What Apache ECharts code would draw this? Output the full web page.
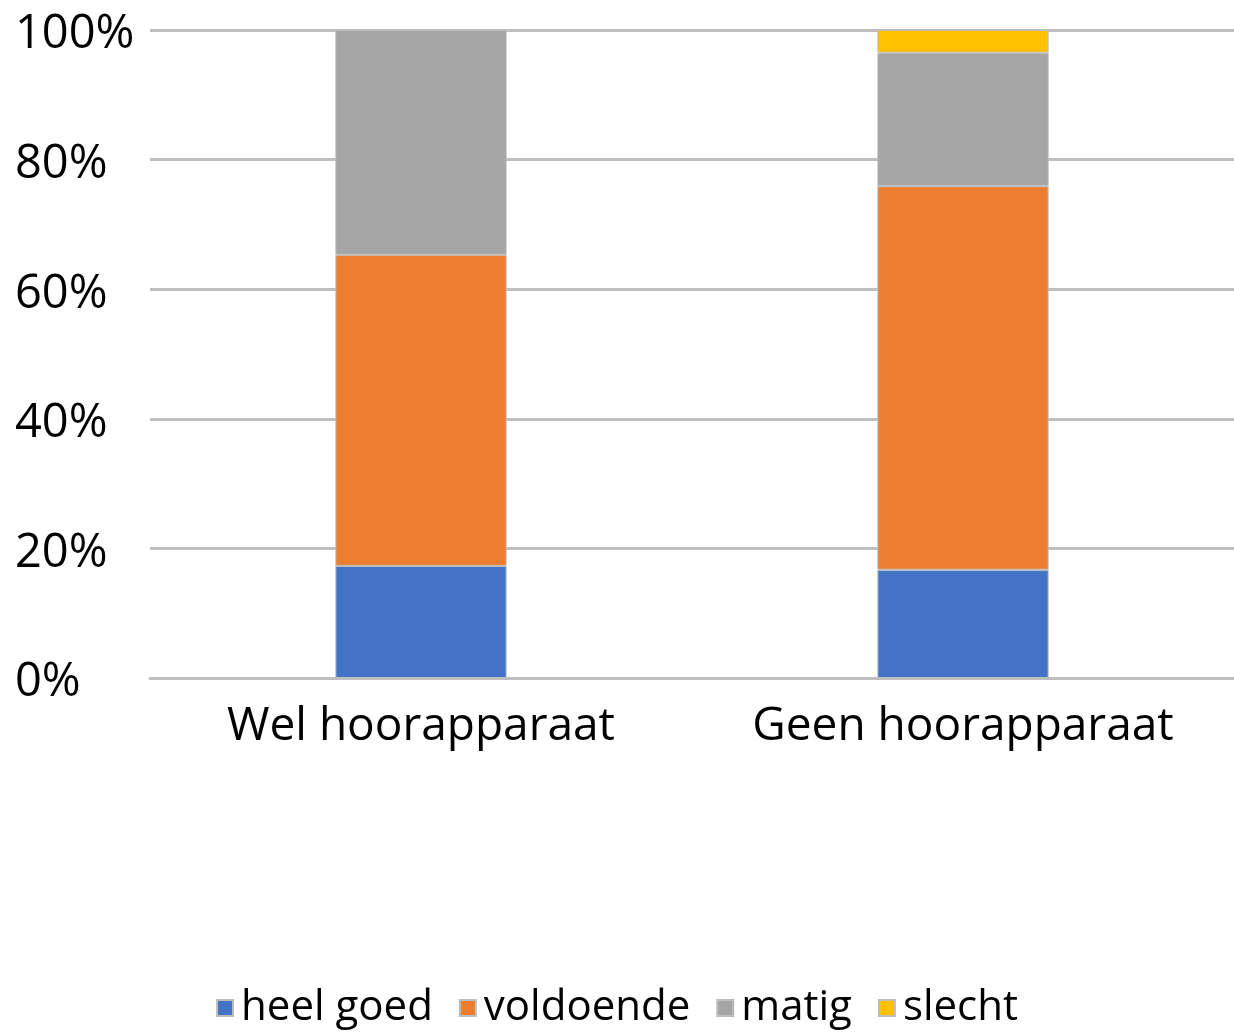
<!DOCTYPE html>
<html>
	<head>
		<meta charset="UTF-8">
		<title></title>
		<style>
			html, body { margin: 0; padding: 0; background: #fff; }
		</style>
	</head>
	<body>
		<div id="chart" style="width: 1234px;height: 1035px;"></div>
		<script src="https://cdn.jsdelivr.net/npm/echarts@6/dist/echarts.min.js"></script>
		<script type="text/javascript">
			var categories = ['Wel hoorapparaat', 'Geen hoorapparaat'];
			var heelGoed = [17.3, 16.7];
			var voldoende = [48.0, 59.2];
			var matig = [34.7, 20.6];
			var slecht = [0, 3.5];
			var yTicks = [0, 20, 40, 60, 80, 100];

			var font = 'Open Sans';
			var chart = echarts.init(document.getElementById('chart'));

			function barSeries(name, data, color) {
				return {
					name: name,
					type: 'bar',
					stack: 'total',
					barWidth: '31.6%',
					data: data,
					itemStyle: {
						color: color,
						borderColor: '#bdbdbd',
						borderWidth: 1
					}
				};
			}

			var option = {
				backgroundColor: '#fff',
				animation: false,
				grid: {
					left: 150,
					right: 0,
					top: 30,
					bottom: 357
				},
				legend: {
					top: 982,
					left: 'center',
					icon: 'rect',
					itemWidth: 16,
					itemHeight: 16,
					itemGap: 26,
					textStyle: {
						fontFamily: font,
						fontSize: 42,
						color: '#000',
						padding: [0, 0, 0, 3]
					},
					data: ['heel goed', 'voldoende', 'matig', 'slecht']
				},
				xAxis: {
					type: 'category',
					data: categories,
					axisTick: { show: false },
					axisLine: {
						lineStyle: { color: '#bfbfbf', width: 3 }
					},
					axisLabel: {
						interval: 0,
						margin: 26,
						fontFamily: font,
						fontSize: 46,
						color: '#000'
					}
				},
				yAxis: {
					type: 'value',
					min: 0,
					max: 100,
					interval: 20,
					axisLine: { show: false },
					axisTick: { show: false },
					axisLabel: {
						align: 'left',
						margin: 135,
						formatter: function(v) {
							return yTicks.indexOf(v) >= 0 ? '{t|' + v + '%}' : '';
						},
						rich: {
							t: {
								fontFamily: font,
								fontSize: 47,
								color: '#000',
								padding: [10, 0, 0, 0]
							}
						}
					},
					splitLine: {
						lineStyle: { color: '#bfbfbf', width: 3 }
					}
				},
				series: [
					barSeries('heel goed', heelGoed, '#4472c4'),
					barSeries('voldoende', voldoende, '#ed7d31'),
					barSeries('matig', matig, '#a5a5a5'),
					barSeries('slecht', slecht, '#ffc000')
				]
			};
			chart.setOption(option);
		</script>
	</body>
</html>
